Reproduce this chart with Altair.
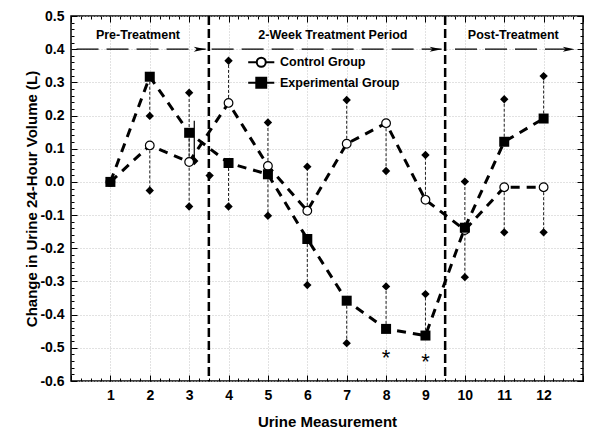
import altair as alt
import pandas as pd

# ---------------- data ----------------
measure = [1, 2, 3, 4, 5, 6, 7, 8, 9, 10, 11, 12]
control_mean = [0.0, 0.110, 0.060, 0.238, 0.048, -0.087, 0.115, 0.177, -0.054, -0.145, -0.016, -0.016]
exp_mean = [0.0, 0.317, 0.148, 0.057, 0.023, -0.172, -0.358, -0.443, -0.463, -0.138, 0.121, 0.191]
control_err = [None, -0.026, 0.269, 0.365, 0.179, 0.046, 0.247, 0.033, 0.081, 0.001, -0.152, -0.152]
exp_err = [None, 0.199, -0.074, -0.074, -0.102, -0.311, -0.486, -0.315, -0.338, -0.287, 0.249, 0.319]

stray_x = [3.13, 3.52]
stray_y = [0.063, 0.019]
stray_rule_x = [3.13]
stray_rule_from = [0.184]
stray_rule_to = [0.063]

phase_x = [3.5, 9.5]
arrow_start = [0.14, 3.57, 9.75]
arrow_end = [3.42, 9.41, 12.79]
arrow_level = [0.4, 0.4, 0.4]

period_text = ["Pre-Treatment", "2-Week Treatment Period", "Post-Treatment"]
period_x = [1.70, 6.65, 11.23]
period_y = [0.443, 0.443, 0.443]

star_x = [8, 9]
star_y = [-0.530, -0.542]

groups = ["Control Group", "Experimental Group"]

# ---------------- tables ----------------
means = pd.DataFrame({
    "measure": measure * 2,
    "value": control_mean + exp_mean,
    "group": [groups[0]] * 12 + [groups[1]] * 12,
})
err = pd.DataFrame({
    "measure": measure * 2,
    "mean": control_mean + exp_mean,
    "end": control_err + exp_err,
}).dropna()
ctrl = pd.DataFrame({"measure": measure, "value": control_mean})
expd = pd.DataFrame({"measure": measure, "value": exp_mean})
stray = pd.DataFrame({"x": stray_x, "y": stray_y})
stray_rule = pd.DataFrame({"x": stray_rule_x, "y": stray_rule_from, "y2": stray_rule_to})
phases = pd.DataFrame({"x": phase_x})
arrows = pd.DataFrame({"x": arrow_start, "x2": arrow_end, "y": arrow_level})
periods = pd.DataFrame({"x": period_x, "y": period_y, "text": period_text})
stars = pd.DataFrame({"x": star_x, "y": star_y})

# ---------------- scales / axes ----------------
FONT = "Liberation Sans"
xs = alt.Scale(domain=[0, 13], nice=False, zero=False)
ys = alt.Scale(domain=[-0.6, 0.5], nice=False, zero=False)

major_x = list(range(0, 14))
minor_x = [i * 0.25 for i in range(53)]
major_y = [round(-0.6 + i * 0.1, 1) for i in range(12)]
minor_y = [round(-0.6 + i * 0.02, 2) for i in range(56)]


def tick_axis(orient, values, size):
    return alt.Axis(orient=orient, values=values, tickSize=size, offset=-size,
                    domain=False, grid=False, labels=False, title=None,
                    tickColor="black", tickWidth=1)


grid_x = alt.Axis(orient="bottom", values=list(range(1, 13)), grid=True, gridColor="#c4c4c4",
                  gridDash=[1, 2], gridWidth=1, ticks=False, labels=False, domain=False, title=None)
grid_y = alt.Axis(orient="left", values=major_y, grid=True, gridColor="#c4c4c4",
                  gridDash=[1, 2], gridWidth=1, ticks=False, labels=False, domain=False, title=None)

x_main = alt.Axis(orient="bottom", values=major_x, tickSize=6, offset=-6, domain=False, grid=False,
                  tickColor="black", tickWidth=1, labelOverlap=False, labelFlush=False,
                  labelExpr="datum.value >= 1 && datum.value <= 12 ? format(datum.value, 'd') : ''",
                  labelFont=FONT, labelFontSize=14, labelFontWeight="bold", labelColor="black",
                  labelPadding=7, title="Urine Measurement", titleFont=FONT, titleFontSize=15,
                  titleFontWeight="bold", titleColor="black", titlePadding=12)
y_main = alt.Axis(orient="left", values=major_y, tickSize=6, offset=-6, domain=False, grid=False,
                  tickColor="black", tickWidth=1, labelOverlap=False,
                  labelExpr="(datum.value < -0.001 ? '-' : '') + format(abs(datum.value), '.1f')",
                  labelFont=FONT, labelFontSize=14, labelFontWeight="bold", labelColor="black",
                  labelPadding=7, title="Change in Urine 24-Hour Volume (L)", titleFont=FONT,
                  titleFontSize=15, titleFontWeight="bold", titleColor="black", titlePadding=0)

# ---------------- layers ----------------
err_rules = alt.Chart(err).mark_rule(strokeDash=[3, 2], strokeWidth=1, color="#222").encode(
    x=alt.X("measure:Q", scale=xs, axis=grid_x),
    y=alt.Y("mean:Q", scale=ys, axis=grid_y),
    y2="end:Q",
)

sep = alt.Chart(phases).mark_rule(strokeDash=[9, 4], strokeWidth=2.5, color="black").encode(
    x=alt.X("x:Q", scale=xs, axis=None)
)

arrow_lines = alt.Chart(arrows).mark_rule(strokeDash=[22, 8], strokeWidth=1.3, color="black").encode(
    x=alt.X("x:Q", scale=xs, axis=None), x2="x2:Q", y=alt.Y("y:Q", scale=ys, axis=None)
)
arrow_heads = alt.Chart(arrows).mark_point(
    shape="M-2.4,-0.5L0,0L-2.4,0.5L-1.8,0Z", filled=True, size=100, color="black", opacity=1
).encode(x=alt.X("x2:Q", scale=xs, axis=None), y=alt.Y("y:Q", scale=ys, axis=None))

lines = alt.Chart(means).mark_line(strokeDash=[9, 7], strokeWidth=3, color="black").encode(
    x=alt.X("measure:Q", scale=xs, axis=x_main),
    y=alt.Y("value:Q", scale=ys, axis=y_main),
    detail="group:N",
)

stray_r = alt.Chart(stray_rule).mark_rule(strokeWidth=1.2, color="black").encode(
    x=alt.X("x:Q", scale=xs, axis=None), y=alt.Y("y:Q", scale=ys, axis=None), y2="y2:Q"
)
stray_d = alt.Chart(stray).mark_point(shape="diamond", filled=True, size=70, color="black", opacity=1).encode(
    x=alt.X("x:Q", scale=xs, axis=None), y=alt.Y("y:Q", scale=ys, axis=None)
)

diamonds = alt.Chart(err).mark_point(shape="diamond", filled=True, size=70, color="black", opacity=1).encode(
    x=alt.X("measure:Q", scale=xs, axis=tick_axis("bottom", minor_x, 3)),
    y=alt.Y("end:Q", scale=ys, axis=tick_axis("left", minor_y, 3)),
)

circles = alt.Chart(ctrl).mark_point(shape="circle", filled=True, fill="white", stroke="black",
                                     strokeWidth=1.2, size=75, opacity=1).encode(
    x=alt.X("measure:Q", scale=xs, axis=tick_axis("top", major_x, 6)),
    y=alt.Y("value:Q", scale=ys, axis=tick_axis("right", major_y, 6)),
)

squares = alt.Chart(expd).mark_point(shape="square", filled=True, color="black", size=100, opacity=1).encode(
    x=alt.X("measure:Q", scale=xs, axis=tick_axis("top", minor_x, 3)),
    y=alt.Y("value:Q", scale=ys, axis=tick_axis("right", minor_y, 3)),
)

period_labels = alt.Chart(periods).mark_text(
    font=FONT, fontSize=12.5, fontWeight="bold", color="black", baseline="middle", align="center"
).encode(x=alt.X("x:Q", scale=xs, axis=None), y=alt.Y("y:Q", scale=ys, axis=None), text="text:N")

star_marks = alt.Chart(stars).mark_text(
    text="*", font=FONT, fontSize=22, color="black", baseline="middle", align="center"
).encode(x=alt.X("x:Q", scale=xs, axis=None), y=alt.Y("y:Q", scale=ys, axis=None))

path_c = "M-2.9,0L-1,0M1,0L2.9,0M1,0A1,1,0,1,1,-1,0A1,1,0,1,1,1,0Z"
path_e = "M-2.9,0L-1.1,0M1.1,0L2.9,0M-1.1,-1.1L1.1,-1.1L1.1,1.1L-1.1,1.1Z"
leg = alt.Legend(orient="none", legendX=184, legendY=40, title=None, symbolSize=81,
                 symbolStrokeWidth=2, symbolOpacity=1, labelFont=FONT, labelFontSize=12.5,
                 labelFontWeight="bold", labelColor="black", labelOffset=12.5, padding=0,
                 rowPadding=2.5)
legend_layer = alt.Chart(means).mark_point(filled=True, opacity=0).encode(
    x=alt.X("measure:Q", scale=xs, axis=None),
    y=alt.Y("value:Q", scale=ys, axis=None),
    shape=alt.Shape("group:N", scale=alt.Scale(domain=groups, range=[path_c, path_e]), legend=leg),
    fill=alt.Fill("group:N", scale=alt.Scale(domain=groups, range=["white", "black"]), legend=leg),
    stroke=alt.Stroke("group:N", scale=alt.Scale(domain=groups, range=["black", "black"]), legend=leg),
)

chart = alt.layer(
    err_rules, sep, arrow_lines, arrow_heads, lines, stray_r, stray_d, diamonds,
    circles, squares, period_labels, star_marks, legend_layer,
).resolve_axis(x="independent", y="independent").properties(
    width=512, height=365,
    autosize=alt.AutoSizeParams(type="none"),
    padding={"left": 63, "top": 8, "right": 9, "bottom": 48},
    background="white",
).configure_view(stroke="black", strokeWidth=1.5)

chart.save("out.html", embed_options={"renderer": "svg", "actions": False})
